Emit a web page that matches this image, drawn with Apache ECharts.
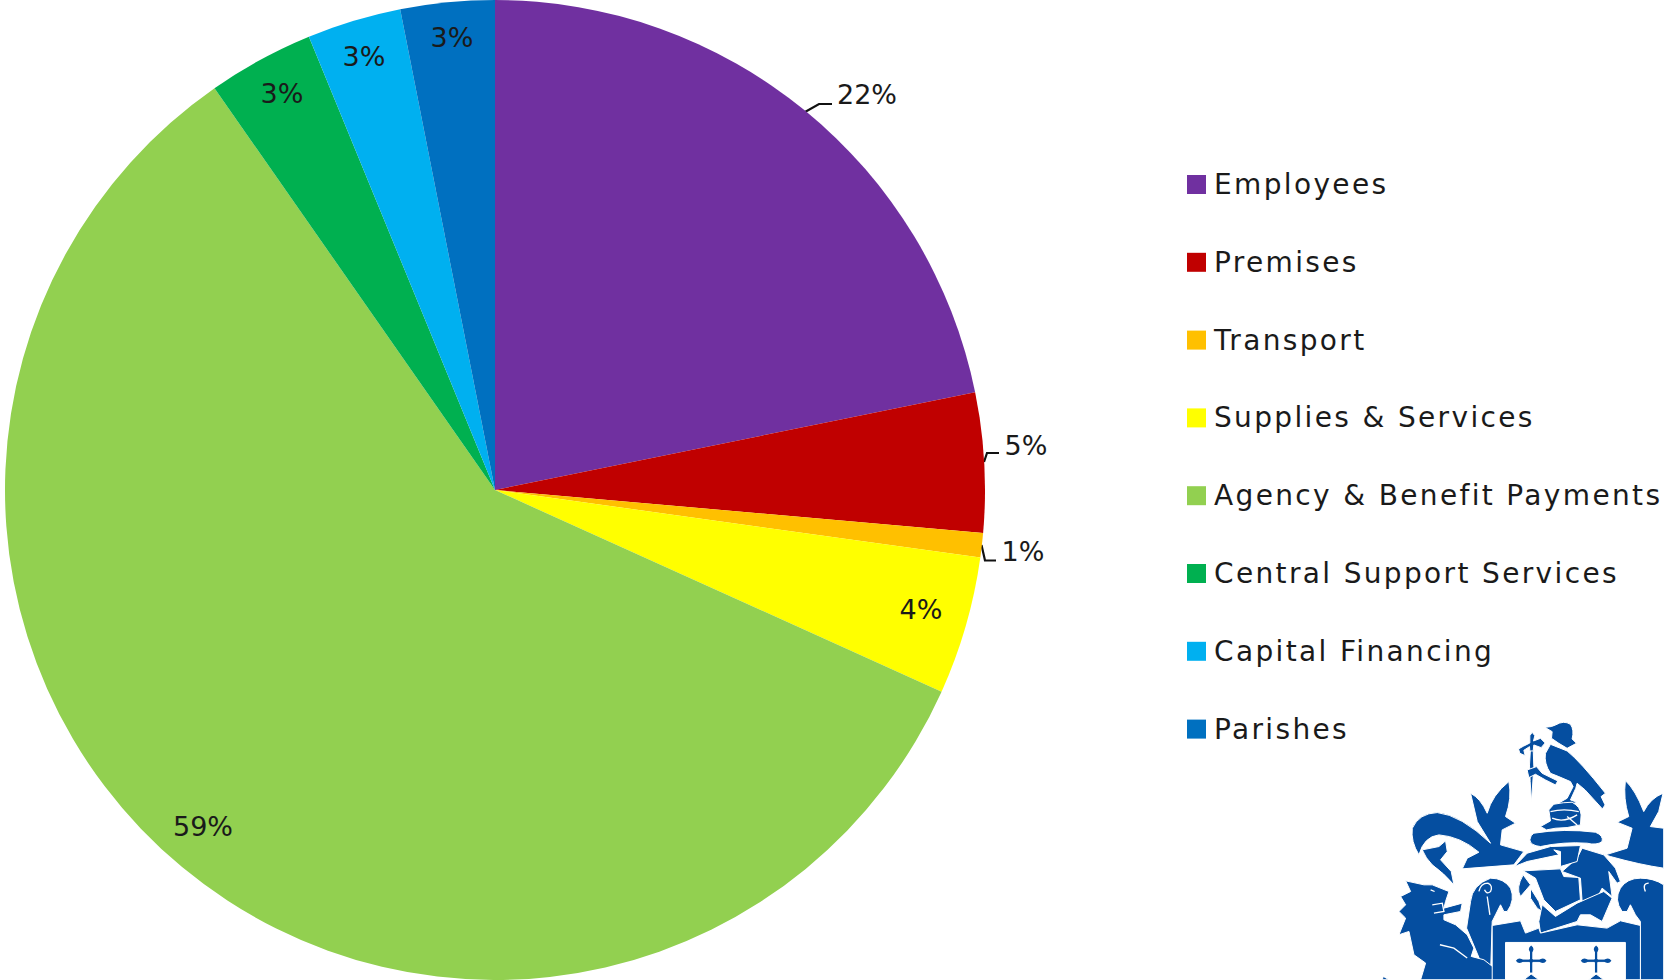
<!DOCTYPE html>
<html><head><meta charset="utf-8">
<script src="https://cdn.jsdelivr.net/npm/echarts@6/dist/echarts.min.js"></script>
<style>html,body{margin:0;padding:0;background:#fff}#c{width:1664px;height:980px}#c text[style*="28px"]{letter-spacing:2.35px}</style>
</head><body><div id="c"></div>
<script>
const categories=['Employees','Premises','Transport','Supplies & Services','Agency & Benefit Payments','Central Support Services','Capital Financing','Parishes'];
const values=[21.8,4.6,0.8,4.55,58.55,3.5,3.1,3.1];
const pctLabels=['22%','5%','1%','4%','59%','3%','3%','3%'];
const colors=['#7030A0','#C00000','#FFC000','#FFFF00','#92D050','#00B050','#00B0F0','#0070C0'];
const labelCentres=[[867,94.5],[1026,445],[1023,551],[921,609],[203,826],[282,93],[364,56],[452,37]];
const leaderLines={0:[[805,112],[819,104],[832,104]],1:[[984,462],[987,453],[999,453]],2:[[981.5,545],[985,560.5],[996,560.5]]};
// crest artwork, traced in a 900x795 box (3x the size on the page)
const crestBlue='#054EA0';
const crestShapes=[
 'M543 37Q565 36 575 30Q600 15 620 28Q632 45 625 72L638 85L610 100L585 85L563 70L565 50Z',
 'M560 88Q590 100 610 108Q650 140 725 235L712 245L724 270L716 282L664 225L640 205L636 220L620 255L640 262L600 275L575 270L610 250L628 215L620 200L585 185L560 175Q540 145 545 115Z',
 'M500 100L508 100L510 155L503 262L499 200L497 150Z',
 'M498 62L505 52L513 62L509 78L530 70L544 84L532 98L510 90L508 108L498 108L497 95L480 106L484 122L468 115L464 102L478 94L498 84Z',
 'M518 155L535 175L582 198L575 210L545 195L515 178L495 188L490 165Z',
 'M570 268Q600 262 625 262Q650 275 652 300L650 330L610 338L575 340L548 345L530 335L560 318L555 285Z',
 'M510 355Q600 340 695 352Q720 362 715 380Q700 392 670 385Q600 380 530 395Q500 392 498 375Q500 360 510 355Z',
 'M145 340Q165 295 220 293Q290 300 380 385L340 320L320 235Q350 250 370 295Q385 240 435 200Q445 250 425 305L455 325L415 345L410 390L480 410L450 450L295 462L310 430L345 412Q290 365 225 360Q180 365 165 420Q140 380 145 340Z',
 'M175 405L225 395L245 378L250 410L230 435L262 470L270 510Q240 475 205 450Q185 430 175 405Z',
 'M785 197Q815 225 840 290Q860 250 898 235L885 290L860 335L900 340L900 460Q830 450 740 425L725 420L790 400L805 340L760 322L795 305Q778 250 785 197Z',
 'M478 468L590 462L600 485L645 488L650 555L575 590L540 555L515 490Z',
 'M478 480L500 510L470 545Q455 520 478 480Z',
 'M655 400L720 420L755 460L770 500L760 505L735 470L745 545L715 520L700 550L655 560L650 490L595 470L640 430Z',
 'M500 520L525 560L535 590L520 580L500 550Z',
 'M535 570L575 605L640 565L720 530L745 550L715 620L680 600L650 600L640 620L530 655L525 620Z',
 'M452 455L490 415L560 395L650 392L640 440L590 455L590 410L570 405L585 420L490 440Z',
 'M380 490Q420 490 440 520Q455 555 430 590L420 590L410 570L395 600L385 620L380 780L350 740L308 640L320 560Q325 510 380 490Z',
 'M830 490Q870 490 900 510L900 795L830 795L830 620L815 600L800 570L790 590L775 590Q750 555 770 520Q790 490 830 490Z',
 'M125 498L180 510L205 510L255 530L245 560L240 580L295 565L290 590L240 600L240 615L275 630L310 660L330 700L322 725L360 735L405 770L410 795L170 795L185 745L150 720L135 650L105 660L125 610L105 590L125 570L110 545L140 530Z',
 'M385 632L470 618L485 655L525 640L530 655L640 630L730 640L770 618L830 632L830 795L785 795L785 683L425 683L425 795L385 795Z',
 'M55 795L58 785L75 795Z',
 'M497 700L507 700L507 733L540 733L540 743L507 743L507 775L497 775L497 743L464 743L464 733L497 733Z',
 'M692 700L702 700L702 733L735 733L735 743L702 743L702 775L692 775L692 743L659 743L659 733L692 733Z',
 'M480 795L502 778L525 795Z','M675 795L697 778L720 795Z',
 'M502 692Q516 702 502 716Q488 702 502 692Z','M456 738Q466 724 480 738Q466 752 456 738Z','M548 738Q538 724 524 738Q538 752 548 738Z',
 'M697 692Q711 702 697 716Q683 702 697 692Z','M651 738Q661 724 675 738Q661 752 651 738Z','M743 738Q733 724 719 738Q733 752 743 738Z'
];
const crestLines=['M345 530Q350 505 372 505Q388 512 380 530Q368 540 362 525','M370 545L378 600','M845 530Q835 505 855 505','M205 570L235 565L240 590L210 595','M228 690L270 700L310 730','M565 310Q600 325 640 300','M560 290Q600 280 645 290','M610 305L640 330','M200 525L212 530'];
function crestEl(d,i,prefix,style){
 const name=prefix+i;
 echarts.graphic.registerShape(name,echarts.graphic.extendPath(d,{}));
 return {type:name,style};
}
const crestChildren=crestShapes.map((d,i)=>crestEl(d,i,'crestFill',i>=25?{fill:crestBlue}:{fill:crestBlue,stroke:'#fff',lineWidth:3}))
 .concat(crestLines.map((d,i)=>crestEl(d,i,'crestLine',{fill:'none',stroke:'#fff',lineWidth:4})));
const chart=echarts.init(document.getElementById('c'),null,{renderer:'svg'});
chart.setOption({
 animation:false,
 textStyle:{fontFamily:'"DejaVu Sans"'},
 graphic:{elements:[{type:'group',x:1364,y:715,scaleX:1/3,scaleY:1/3,silent:true,children:crestChildren}]},
 legend:{orient:'vertical',left:1187,top:170.5,padding:0,itemWidth:19,itemHeight:19,itemGap:49.8,icon:'rect',
  data:categories,selectedMode:false,
  textStyle:{fontSize:28,lineHeight:19,color:'#1a1a1a',padding:[0,0,5,3]}},
 series:[{type:'pie',center:[495,490],radius:[0,490],startAngle:90,clockwise:true,
  avoidLabelOverlap:false,
  data:categories.map((n,i)=>({name:n,value:values[i],itemStyle:{color:colors[i]}})),
  label:{show:true,formatter:p=>pctLabels[p.dataIndex],fontSize:27,color:'#1a1a1a'},
  labelLine:{show:true,lineStyle:{color:'#111',width:2.2},length:10,length2:10},
  labelLayout:p=>{const [x,y]=labelCentres[p.dataIndex];const r={x,y,align:'center',verticalAlign:'middle'};
   r.labelLinePoints=leaderLines[p.dataIndex]||[[x,y],[x,y],[x,y]];return r;}
 }]
});
</script></body></html>
